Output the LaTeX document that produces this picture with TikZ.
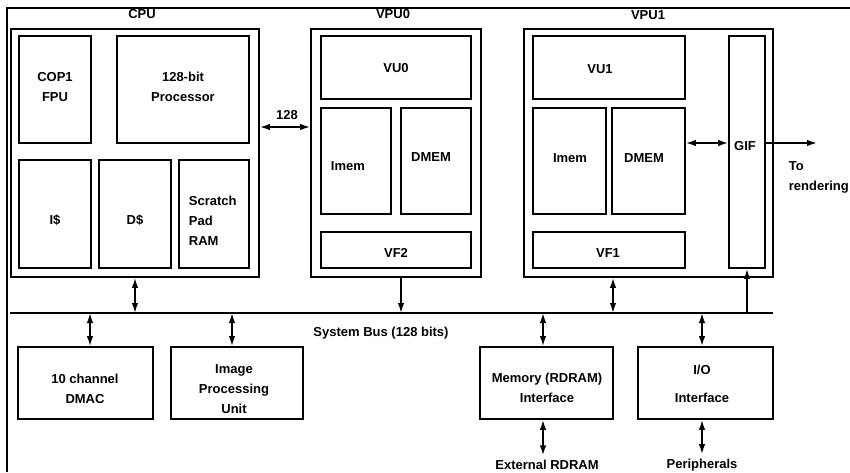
\documentclass[tikz,border=0pt]{standalone}
\usepackage{fontspec}
\setmainfont{Liberation Sans}
\usetikzlibrary{arrows.meta}
\begin{document}
\begin{tikzpicture}[x=1pt,y=-1pt,
  line width=1.8pt,
  >={Latex[length=10pt,width=6.5pt]},
  link/.style={line width=1.6pt},
  box/.style 2 args={draw,line width=1.8pt,inner sep=0pt,minimum width=#1,minimum height=#2},
  txt/.style={font=\bfseries\fontsize{13}{20}\selectfont,inner sep=0pt,align=center}]
\useasboundingbox (0,0) rectangle (850,472);

% outer frame (only left and top edges are in view)
\draw (7,472) -- (7,8) -- (850,8);

% CPU
\node[box={248pt}{248pt}] (cpu) at (135,153) {};
\node[box={72pt}{107pt}] (cop) at (55,89.5) {};
\node[box={132pt}{107pt}] (proc) at (183,89.5) {};
\node[box={72pt}{108pt}] (icache) at (55,214) {};
\node[box={72pt}{108pt}] (dcache) at (135,214) {};
\node[box={70pt}{108pt}] (spram) at (214,214) {};

% VPU0
\node[box={170pt}{248pt}] (vpu0) at (396,153) {};
\node[box={150pt}{63pt}] (vu0) at (396,67.5) {};
\node[box={70pt}{106pt}] (imem0) at (356,161) {};
\node[box={70pt}{106pt}] (dmem0) at (436,161) {};
\node[box={150pt}{36pt}] (vf2) at (396,250) {};

% VPU1
\node[box={249pt}{248pt}] (vpu1) at (648.5,153) {};
\node[box={152pt}{63pt}] (vu1) at (609,67.5) {};
\node[box={73pt}{106pt}] (imem1) at (569.5,161) {};
\node[box={73pt}{106pt}] (dmem1) at (648.5,161) {};
\node[box={152pt}{36pt}] (vf1) at (609,250) {};
\node[box={36pt}{232pt}] (gif) at (747,152) {};

% peripheral blocks
\node[box={135pt}{72pt}] (dmac) at (85.5,383) {};
\node[box={132pt}{72pt}] (ipu) at (237,383) {};
\node[box={133pt}{72pt}] (memif) at (546.5,383) {};
\node[box={135pt}{72pt}] (ioif) at (705.5,383) {};

% labels
\node[txt] (cpu-t) at (142,14) {CPU};
\node[txt] (vpu0-t) at (393,14) {VPU0};
\node[txt] (vpu1-t) at (648,15) {VPU1};
\node[txt] (cop-t) at (55,87) {COP1\\FPU};
\node[txt] (proc-t) at (183,87) {128-bit\\Processor};
\node[txt] (ic-t) at (55,220) {I\$};
\node[txt] (dc-t) at (135,220) {D\$};
\node[txt,anchor=west,align=left] (sp-t) at (188,221) {Scratch\\Pad\\RAM};
\node[txt] (vu0-t) at (396,68) {VU0};
\node[txt,anchor=west] (im0-t) at (330,166) {Imem};
\node[txt] (dm0-t) at (431,157) {DMEM};
\node[txt] (vf2-t) at (396,253) {VF2};
\node[txt] (vu1-t) at (600,69) {VU1};
\node[txt] (im1-t) at (570,158) {Imem};
\node[txt] (dm1-t) at (644,158) {DMEM};
\node[txt] (vf1-t) at (608,253) {VF1};
\node[txt] (gif-t) at (745,146) {GIF};
\node[txt,anchor=west,align=left] (rend-t) at (788,177) {To\\rendering};
\node[txt] (bus-t) at (381,333) {System Bus (128 bits)};
\node[txt] (dmac-t) at (85,389) {10 channel\\DMAC};
\node[txt] (ipu-t) at (234,389) {Image\\Processing\\Unit};
\node[txt] (mem-t) at (547,388) {Memory (RDRAM)\\Interface};
\node[txt] (io-t) at (702,384) {I/O\\[8pt]Interface};
\node[txt] (ext) at (547,465) {External RDRAM};
\node[txt] (peri) at (702,465) {Peripherals};
\node[txt] (w128) at (287,115) {128};

% system bus
\coordinate (busL) at (10,313);
\coordinate (busR) at (773,313);
\coordinate (out) at (817,143);
\draw (busL) -- (busR);

% connectors
\draw[link,<->] ([yshift=26pt]cpu.east) -- ([yshift=26pt]cpu.east -| vpu0.west);
\draw[link,<->] ([yshift=18pt]dmem1.east) -- ([yshift=18pt]dmem1.east -| gif.west);
\draw[link,->] ([yshift=9pt]gif.east) -- (out);

\draw[link,<->] (cpu.south) -- (cpu.south |- busL);
\draw[link,->] ([xshift=5pt]vpu0.south) -- ([xshift=5pt]vpu0.south |- busL);
\draw[link,<->] ([xshift=-35.5pt]vpu1.south) -- ([xshift=-35.5pt]vpu1.south |- busL);
\draw[link,->] (gif.south |- busL) -- (gif.south);

\draw[link,<->] ([xshift=4.5pt]dmac.north |- busL) -- ([xshift=4.5pt]dmac.north);
\draw[link,<->] ([xshift=-5pt]ipu.north |- busL) -- ([xshift=-5pt]ipu.north);
\draw[link,<->] ([xshift=-3.5pt]memif.north |- busL) -- ([xshift=-3.5pt]memif.north);
\draw[link,<->] ([xshift=-3.5pt]ioif.north |- busL) -- ([xshift=-3.5pt]ioif.north);

\draw[link,<->,shorten >=4pt] ([xshift=-3.5pt]memif.south) -- ([xshift=-3.5pt]memif.south |- ext.north);
\draw[link,<->,shorten >=4pt] ([xshift=-3.5pt]ioif.south) -- ([xshift=-3.5pt]ioif.south |- peri.north);
\end{tikzpicture}
\end{document}
